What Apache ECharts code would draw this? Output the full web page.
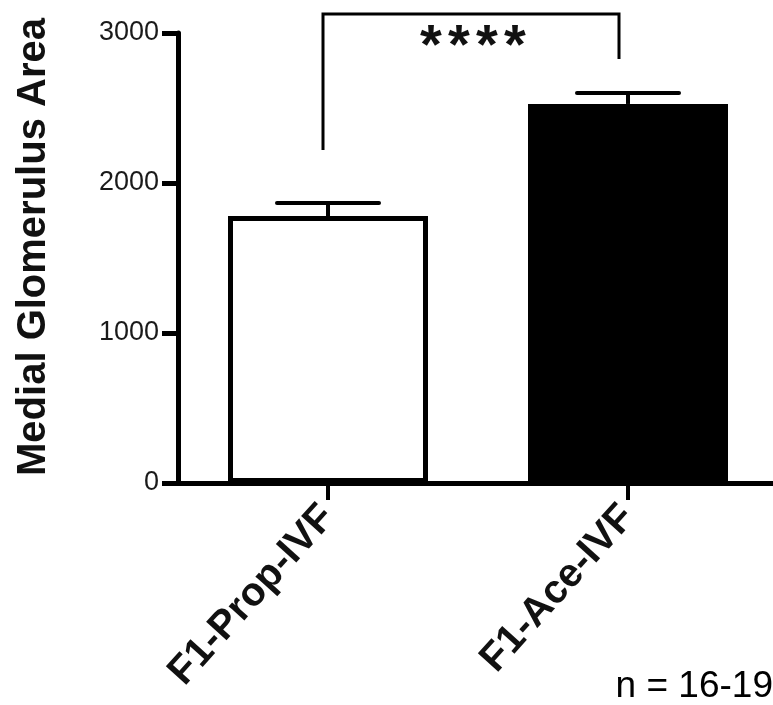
<!DOCTYPE html>
<html>
<head>
<meta charset="utf-8">
<style>
  html, body { margin: 0; padding: 0; background: #fff; }
  #chart { width: 773px; height: 705px; }
</style>
<script src="https://cdn.jsdelivr.net/npm/echarts@6/dist/echarts.min.js"></script>
</head>
<body>
<div id="chart"></div>
<script>
// Groups and their mean medial glomerulus area (with upper SEM bound)
const categories = ['F1-Prop-IVF', 'F1-Ace-IVF'];
const means = [1780, 2527];
const upperErr = [1867, 2600];
const barColors = ['#ffffff', '#000000'];
const yTicks = [0, 1000, 2000, 3000];

// Significance bracket: left foot, right foot, top (data units)
const bracket = [2220, 2827, 3127];
const sigLabel = '****';
const nLabel = 'n = 16-19';

const chart = echarts.init(document.getElementById('chart'));

const option = {
  animation: false,
  backgroundColor: '#ffffff',
  grid: {
    left: 178, top: 33, width: 600, height: 450,
    containLabel: false, outerBoundsMode: 'none'
  },
  xAxis: {
    type: 'category',
    data: categories,
    axisLine: { show: true, lineStyle: { color: '#000', width: 5 } },
    axisTick: { show: true, alignWithLabel: true, length: 17, lineStyle: { color: '#000', width: 4 } },
    axisLabel: {
      rotate: 48,
      margin: 28,
      color: '#111',
      fontFamily: 'Liberation Sans, Arial, sans-serif',
      fontWeight: 'bold',
      fontSize: 40
    }
  },
  yAxis: {
    type: 'value',
    min: yTicks[0],
    max: yTicks[yTicks.length - 1],
    interval: 1000,
    name: 'Medial Glomerulus Area',
    nameLocation: 'middle',
    nameGap: 124,
    nameRotate: 90,
    nameTextStyle: {
      color: '#111',
      fontFamily: 'Liberation Sans, Arial, sans-serif',
      fontWeight: 'bold',
      fontSize: 40,
      padding: [0, 0, 0, 22]
    },
    splitLine: { show: false },
    axisLine: { show: true, lineStyle: { color: '#000', width: 5 } },
    axisTick: { show: true, length: 16, lineStyle: { color: '#000', width: 5 } },
    axisLabel: {
      margin: 19,
      color: '#1a1a1a',
      fontFamily: 'Liberation Sans, Arial, sans-serif',
      fontSize: 27,
      formatter: function (v) { return String(v); }
    }
  },
  series: [
    {
      type: 'bar',
      barWidth: 200,
      data: means.map((v, i) => ({
        value: v,
        itemStyle: {
          color: barColors[i],
          borderColor: '#000',
          borderWidth: i === 0 ? 5 : 0
        }
      })),
      z: 2
    },
    {
      // SEM whiskers (upper only)
      type: 'custom',
      data: means.map((v, i) => [i, v, upperErr[i]]),
      renderItem: function (params, api) {
        const base = api.coord([api.value(0), api.value(1)]);
        const top = api.coord([api.value(0), api.value(2)]);
        const half = 51;
        return {
          type: 'group',
          children: [
            { type: 'line', shape: { x1: base[0], y1: base[1], x2: top[0], y2: top[1] },
              style: { stroke: '#000', lineWidth: 4 } },
            { type: 'line', shape: { x1: top[0] - half, y1: top[1], x2: top[0] + half, y2: top[1] },
              style: { stroke: '#000', lineWidth: 4, lineCap: 'round' } }
          ]
        };
      },
      z: 3
    },
    {
      // Significance bracket between the two groups, with its star label
      type: 'custom',
      clip: false,
      data: [[0, 1, bracket[0], bracket[1], bracket[2]]],
      renderItem: function (params, api) {
        const l = api.coord([api.value(0), api.value(2)]);
        const r = api.coord([api.value(1), api.value(3)]);
        const t = api.coord([api.value(0), api.value(4)])[1];
        const lx = l[0] - 5, rx = r[0] - 9;
        const children = [
          { type: 'polyline',
            shape: { points: [[lx, l[1]], [lx, t], [rx, t], [rx, r[1]]] },
            style: { stroke: '#000', lineWidth: 3, fill: null } }
        ];
        const stars = sigLabel.split('');
        const step = 28;
        const cx = (lx + rx) / 2 + 2;
        stars.forEach(function (s, k) {
          children.push({
            type: 'text',
            style: {
              text: s,
              x: cx + (k - (stars.length - 1) / 2) * step,
              y: t + 6,
              align: 'center',
              verticalAlign: 'top',
              fill: '#111',
              font: 'bold 56px "Liberation Sans", Arial, sans-serif'
            }
          });
        });
        return { type: 'group', children: children };
      },
      z: 4
    }
  ],
  graphic: [
    {
      type: 'text',
      right: 0,
      bottom: 0,
      style: {
        text: nLabel,
        fill: '#000',
        font: '37px "Liberation Sans", Arial, sans-serif'
      }
    }
  ]
};

chart.setOption(option);
</script>
</body>
</html>
